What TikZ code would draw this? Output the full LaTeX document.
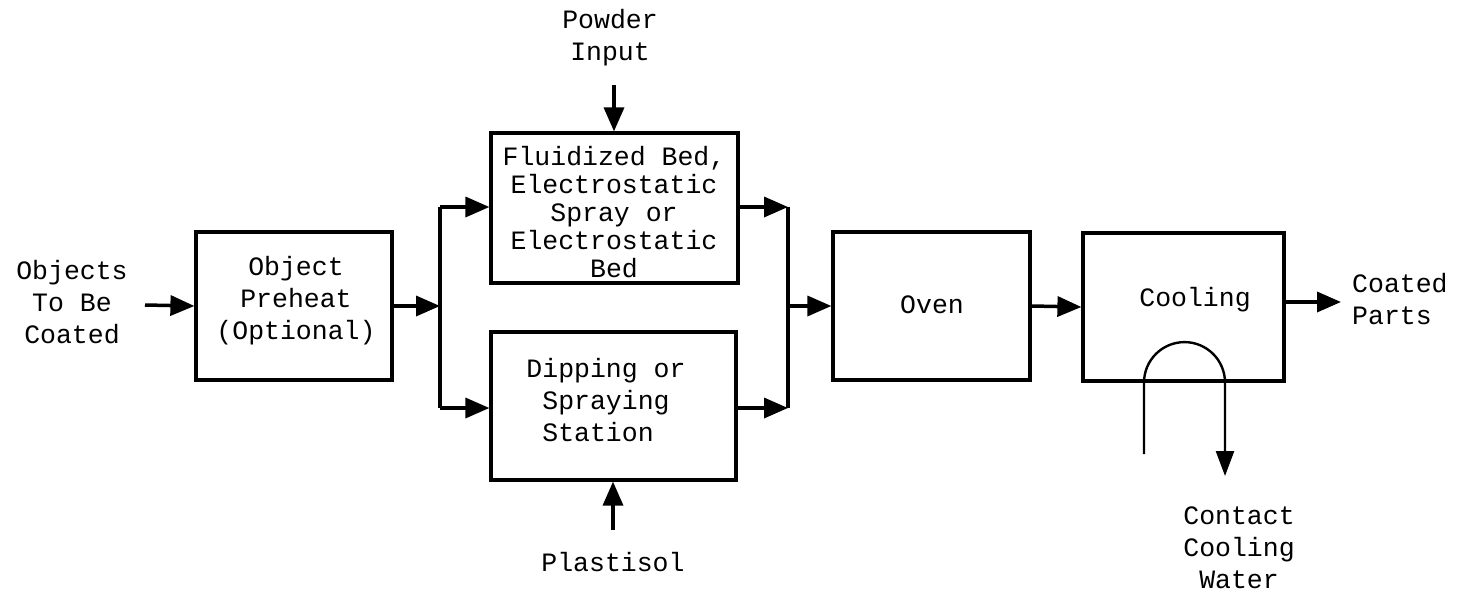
\documentclass[tikz,border=0pt]{standalone}
\usepackage{fontspec}
\setmonofont{Liberation Mono}
\usetikzlibrary{arrows.meta}
\tikzset{
  txt/.style={font=\ttfamily\fontsize{26.5}{32}\selectfont, align=center, inner sep=0pt},
  boxnode/.style={draw, line width=3.2pt, inner sep=0pt},
  flow/.style={line width=3.5pt, -{Triangle[length=24pt,width=20pt]}},
  plainline/.style={line width=3.5pt},
  water/.style={line width=2.4pt, -{Triangle[length=25pt,width=18pt]}},
}
\begin{document}
\begin{tikzpicture}[x=1pt,y=-1pt]
\useasboundingbox (0,0) rectangle (1463,594);
% boxes
\node[boxnode, minimum width=196pt, minimum height=148pt] (pre) at (294,306) {};
\node[boxnode, minimum width=247pt, minimum height=150pt] (top) at (614.5,208) {};
\node[boxnode, minimum width=245pt, minimum height=148pt] (bot) at (613.5,406) {};
\node[boxnode, minimum width=197pt, minimum height=148pt] (oven) at (931.5,306) {};
\node[boxnode, minimum width=201pt, minimum height=148pt] (cool) at (1183.5,307) {};
% texts
\node[txt] (tin) at (72,302) {Objects\\To Be\\Coated};
\node[txt] (tpre) at (296,301) {Object\\Preheat\\(Optional)};
\node[txt, font=\ttfamily\fontsize{26.5}{28}\selectfont] (ttop) at (614,212) {Fluidized Bed,\\Electrostatic\\Spray or\\Electrostatic\\Bed};
\node[txt] (tbot) at (606,400) {Dipping or\\Spraying\\Station~~};
\node[txt] (toven) at (932,305) {Oven};
\node[txt] (tcool) at (1195,300) {Cooling};
\node[txt, align=left, anchor=west] (tout) at (1352,299) {Coated\\Parts};
\node[txt] (tpow) at (610,38) {Powder\\Input};
\node[txt] (tpla) at (613,562) {Plastisol};
\node[txt] (twat) at (1239,548) {Contact\\Cooling\\Water};
% coordinates
\coordinate (src) at (145,305);
\coordinate (sTop) at (440,207);
\coordinate (sBot) at (440,408);
\coordinate (mTop) at (788,207);
\coordinate (mBot) at (788,408);
\coordinate (pw) at (614,85);
\coordinate (pl) at (613,530);
\coordinate (outE) at (1341,302);
\coordinate (wIn) at (1144,454);
\coordinate (wOut) at (1225,476);
% connectors
\draw[flow] (src) -- (pre.west);
\draw[flow] (pre.east) -- (pre.east -| sTop);
\draw[plainline] (sTop) -- (sBot);
\draw[flow] (sTop) -- (sTop -| top.west);
\draw[flow] (sBot) -- (sBot -| bot.west);
\draw[flow] (top.east |- mTop) -- (mTop);
\draw[flow] (bot.east |- mBot) -- (mBot);
\draw[plainline] (mTop) -- (mBot);
\draw[flow] (oven.west -| mTop) -- (oven.west);
\draw[flow] (oven.east) -- (cool.west);
\draw[flow] (cool.east |- outE) -- (outE);
\draw[flow] (pw) -- (pw |- top.north);
\draw[flow] (pl) -- (pl |- bot.south);
\draw[water] (wIn) -- (wIn |- cool.south) arc[start angle=180, end angle=360, radius=40.5] -- (wOut);
\end{tikzpicture}
\end{document}
